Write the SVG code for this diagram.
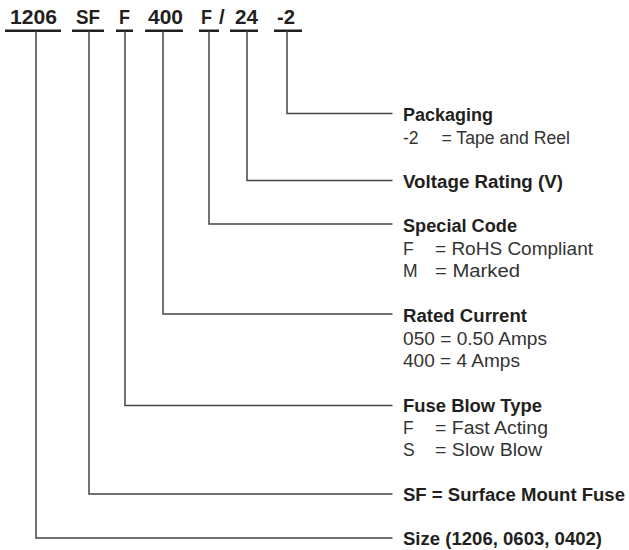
<svg xmlns="http://www.w3.org/2000/svg" width="629" height="550" viewBox="0 0 629 550">
<style>
.code{font-family:"Liberation Sans",Arial,sans-serif;font-weight:bold;font-size:20.5px;fill:#231f20}
.h{font-family:"Liberation Sans",Arial,sans-serif;font-weight:bold;font-size:18px;fill:#231f20}
.b{font-family:"Liberation Sans",Arial,sans-serif;font-size:17.5px;fill:#333}
.ul{stroke:#231f20;stroke-width:2.5;fill:none}
.c{stroke:#444;stroke-width:1.5;fill:none}
</style>
<rect width="629" height="550" fill="#fff"/>
<g id="code">
<text class="code" x="10" y="24" textLength="47" lengthAdjust="spacingAndGlyphs">1206</text>
<text class="code" x="76" y="24" textLength="24" lengthAdjust="spacingAndGlyphs">SF</text>
<text class="code" x="119" y="24" textLength="11" lengthAdjust="spacingAndGlyphs">F</text>
<text class="code" x="148" y="24" textLength="35" lengthAdjust="spacingAndGlyphs">400</text>
<text class="code" x="201" y="24" textLength="11" lengthAdjust="spacingAndGlyphs">F</text>
<text class="code" x="219" y="24">/</text>
<text class="code" x="235" y="24" textLength="23" lengthAdjust="spacingAndGlyphs">24</text>
<text class="code" x="277" y="24" textLength="18" lengthAdjust="spacingAndGlyphs">-2</text>
<path class="ul" d="M5 30.7H61M72 30.7H104M116 30.7H133M145 30.7H183M199 30.7H219M230 30.7H258M274 30.7H302"/>
</g>
<g id="connectors">
<path class="c" d="M287 31V113.5H392.5"/>
<path class="c" d="M247 31V180.5H392.5"/>
<path class="c" d="M209 31V224H392.5"/>
<path class="c" d="M163 31V314H392.5"/>
<path class="c" d="M125 31V405.5H392.5"/>
<path class="c" d="M89 31V494H392.5"/>
<path class="c" d="M36 31V538H392.5"/>
</g>
<g id="packaging">
<text class="h" x="403" y="121" textLength="90" lengthAdjust="spacingAndGlyphs">Packaging</text>
<text class="b" x="403" y="144">-2</text>
<text class="b" x="441.5" y="144" textLength="128.5" lengthAdjust="spacingAndGlyphs">= Tape and Reel</text>
</g>
<g id="voltage">
<text class="h" x="403" y="188" textLength="160" lengthAdjust="spacingAndGlyphs">Voltage Rating (V)</text>
</g>
<g id="special">
<text class="h" x="403" y="232" textLength="114" lengthAdjust="spacingAndGlyphs">Special Code</text>
<text class="b" x="403" y="255">F</text>
<text class="b" x="435" y="255" textLength="158" lengthAdjust="spacingAndGlyphs">= RoHS Compliant</text>
<text class="b" x="403" y="277">M</text>
<text class="b" x="435" y="277" textLength="85" lengthAdjust="spacingAndGlyphs">= Marked</text>
</g>
<g id="current">
<text class="h" x="403" y="322" textLength="124" lengthAdjust="spacingAndGlyphs">Rated Current</text>
<text class="b" x="403" y="345" textLength="144" lengthAdjust="spacingAndGlyphs">050 = 0.50 Amps</text>
<text class="b" x="403" y="367" textLength="117" lengthAdjust="spacingAndGlyphs">400 = 4 Amps</text>
</g>
<g id="blow">
<text class="h" x="403" y="412" textLength="139" lengthAdjust="spacingAndGlyphs">Fuse Blow Type</text>
<text class="b" x="403" y="434">F</text>
<text class="b" x="435" y="434" textLength="113" lengthAdjust="spacingAndGlyphs">= Fast Acting</text>
<text class="b" x="403" y="456">S</text>
<text class="b" x="435" y="456" textLength="107" lengthAdjust="spacingAndGlyphs">= Slow Blow</text>
</g>
<g id="sf">
<text class="h" x="403" y="501" textLength="222" lengthAdjust="spacingAndGlyphs">SF = Surface Mount Fuse</text>
</g>
<g id="size">
<text class="h" x="403" y="545" textLength="199" lengthAdjust="spacingAndGlyphs">Size (1206, 0603, 0402)</text>
</g>
</svg>
